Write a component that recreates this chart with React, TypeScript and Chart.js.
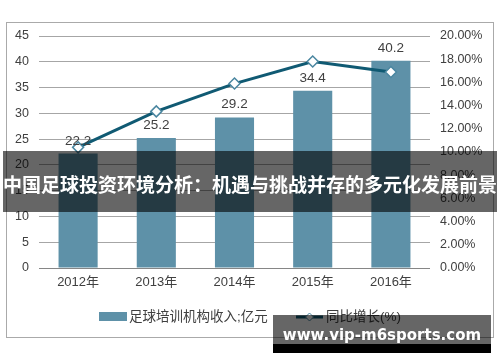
import React, { useEffect, useRef } from "react";
import { Chart, registerables } from "chart.js";

Chart.register(...registerables);

const categories = ["2012年", "2013年", "2014年", "2015年", "2016年"];
const revenue = [22.2, 25.2, 29.2, 34.4, 40.2];
const growth = [10.4, 13.5, 15.9, 17.8, 16.9];
const revenueLabel = "足球培训机构收入;亿元";
const growthLabel = "同比增长(%)";
const bannerText = "中国足球投资环境分析：机遇与挑战并存的多元化发展前景";
const watermarkText = "www.vip-m6sports.com";

const BAR_COLOR = "#5e91a8";
const LINE_COLOR = "#105a73";
const TEXT_COLOR = "#404040";
const FONT = "'Liberation Sans', Arial, 'Noto Sans CJK SC', sans-serif";

const labelPlugin = {
  id: "customLabels",
  afterDatasetsDraw(chart: any) {
    const ctx = chart.ctx;
    const meta = chart.getDatasetMeta(1);
    ctx.save();
    ctx.font = `13.5px ${FONT}`;
    ctx.fillStyle = TEXT_COLOR;
    ctx.textAlign = "center";
    ctx.textBaseline = "alphabetic";
    meta.data.forEach((el: any, i: number) => {
      ctx.fillText(revenue[i].toFixed(1), el.x, el.y - 9);
    });
    ctx.restore();
  },
  afterDraw(chart: any) {
    const ctx = chart.ctx;
    ctx.save();
    const ly = 317;
    ctx.fillStyle = BAR_COLOR;
    ctx.fillRect(99, 312, 28, 9);
    ctx.font = `13.5px ${FONT}`;
    ctx.fillStyle = TEXT_COLOR;
    ctx.textAlign = "left";
    ctx.textBaseline = "middle";
    ctx.fillText(revenueLabel, 129, ly);
    ctx.strokeStyle = LINE_COLOR;
    ctx.lineWidth = 3;
    ctx.beginPath();
    ctx.moveTo(296, ly);
    ctx.lineTo(323, ly);
    ctx.stroke();
    ctx.beginPath();
    const cx = 309.5;
    const r = 4;
    ctx.moveTo(cx, ly - r);
    ctx.lineTo(cx + r, ly);
    ctx.lineTo(cx, ly + r);
    ctx.lineTo(cx - r, ly);
    ctx.closePath();
    ctx.fillStyle = "#ffffff";
    ctx.fill();
    ctx.lineWidth = 1;
    ctx.strokeStyle = "#4a86a0";
    ctx.stroke();
    ctx.fillStyle = TEXT_COLOR;
    ctx.fillText(growthLabel, 326, ly);
    ctx.restore();
  },
};

export default function App() {
  const ref = useRef<HTMLCanvasElement>(null);
  useEffect(() => {
    if (!ref.current) return;
    const chart = new Chart(ref.current, {
      data: {
        labels: categories,
        datasets: [
          {
            type: "line",
            label: growthLabel,
            data: growth,
            yAxisID: "y1",
            borderColor: LINE_COLOR,
            borderWidth: 3,
            pointStyle: "rectRot",
            pointRadius: 5.5,
            pointBackgroundColor: "#ffffff",
            pointBorderColor: "#4a86a0",
            pointBorderWidth: 1.5,
            tension: 0,
            order: 0,
          } as any,
          {
            type: "bar",
            label: revenueLabel,
            data: revenue,
            yAxisID: "y",
            backgroundColor: BAR_COLOR,
            barPercentage: 0.5,
            categoryPercentage: 1,
            order: 1,
          } as any,
        ],
      },
      options: {
        animation: false,
        responsive: false,
        layout: { padding: { top: 36, left: 0, right: 0, bottom: 0 } },
        plugins: { legend: { display: false }, tooltip: { enabled: false } },
        scales: {
          x: {
            grid: { display: false, drawTicks: false },
            border: { display: false },
            ticks: { color: TEXT_COLOR, font: { family: FONT, size: 13 }, padding: 7 },
            afterFit: (s: any) => {
              s.height = 94;
            },
          },
          y: {
            position: "left",
            min: 0,
            max: 45,
            ticks: { stepSize: 5, color: TEXT_COLOR, font: { family: FONT, size: 12.5 }, padding: 10 },
            grid: {
              drawTicks: false,
              color: (c: any) => (c.tick && c.tick.value === 0 ? "#868686" : "#a6a6a6"),
            },
            border: { display: false },
            afterFit: (s: any) => {
              s.width = 39;
            },
          },
          y1: {
            position: "right",
            min: 0,
            max: 20,
            ticks: {
              stepSize: 2,
              color: TEXT_COLOR,
              font: { family: FONT, size: 12.5 },
              padding: 10,
              callback: (v: any) => Number(v).toFixed(2) + "%",
            },
            grid: { display: false, drawTicks: false },
            border: { display: false },
            afterFit: (s: any) => {
              s.width = 70;
            },
          },
        },
      } as any,
      plugins: [labelPlugin],
    });
    return () => chart.destroy();
  }, []);

  return (
    <div style={{ position: "absolute", left: 0, top: 0, width: 500, height: 362, background: "#fff", overflow: "hidden" }}>
      <div
        style={{
          position: "absolute",
          left: 6,
          top: 22,
          width: 488,
          height: 316,
          border: "1px solid #aaaaaa",
          boxSizing: "border-box",
        }}
      />
      <canvas ref={ref} width={500} height={362} style={{ position: "absolute", left: 0, top: 0 }} />
      <div
        style={{
          position: "absolute",
          left: 3,
          top: 151,
          width: 494,
          height: 61,
          background: "rgba(0,0,0,0.6)",
        }}
      />
      <div
        style={{
          position: "absolute",
          left: 0,
          top: 172,
          width: 500,
          textAlign: "center",
          color: "#fff",
          fontFamily: "'Noto Sans CJK SC', sans-serif",
          fontWeight: 700,
          fontSize: 19,
          lineHeight: "24px",
          whiteSpace: "nowrap",
        }}
      >
        {bannerText}
      </div>
      <div
        style={{
          position: "absolute",
          left: 273,
          top: 315,
          width: 218,
          height: 29,
          background: "rgba(0,0,0,0.6)",
        }}
      />
      <div style={{ position: "absolute", left: 273, top: 344, width: 218, height: 9, background: "#000" }} />
      <div
        style={{
          position: "absolute",
          left: 273,
          top: 326,
          width: 218,
          textAlign: "center",
          color: "#fff",
          fontFamily: "'DejaVu Sans', sans-serif",
          fontWeight: 700,
          fontSize: 15,
          lineHeight: "18px",
          whiteSpace: "nowrap",
        }}
      >
        {watermarkText}
      </div>
    </div>
  );
}
